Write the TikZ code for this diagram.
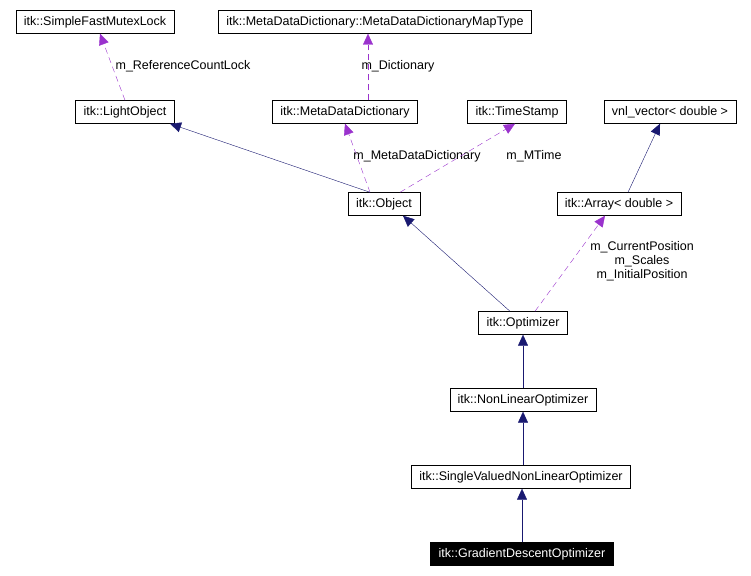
\documentclass[tikz,border=0pt]{standalone}
\usepackage{fontspec}
\setmainfont{Liberation Sans}
\definecolor{inhblue}{RGB}{25,25,112}
\definecolor{usepurple}{RGB}{154,50,205}
\usetikzlibrary{arrows.meta,positioning}

\begin{document}
\begin{tikzpicture}[x=1pt,y=-1pt,
    every node/.style={font=\fontsize{12.5}{14}\selectfont},
    cls/.style={draw,rectangle,minimum height=23pt,inner xsep=8pt,inner ysep=0pt},
    cur/.style={cls,fill=black,text=white},
    inherit/.style={draw=inhblue,-{Triangle[length=11pt,width=10pt,fill=inhblue]}},
    uses/.style={draw=usepurple,dashed,dash pattern=on 6pt off 4pt,-{Triangle[length=11pt,width=10pt,fill=usepurple]}},
    lbl/.style={align=center,inner sep=1pt}
    ]
    \useasboundingbox (0,0) rectangle (751,575);

    % the classes
    \node[cls] (lock) at (95,22) {itk::SimpleFastMutexLock};
    \node[cls] (maptype) at (375,22) {itk::MetaDataDictionary::MetaDataDictionaryMapType};
    \node[cls] (light) at (125,112) {itk::LightObject};
    \node[cls] (dict) at (345,112) {itk::MetaDataDictionary};
    \node[cls] (stamp) at (517,112) {itk::TimeStamp};
    \node[cls] (vnl) at (670,112) {vnl\_vector\textless{} double \textgreater};
    \node[cls] (object) at (384,204) {itk::Object};
    \node[cls] (array) at (619,204) {itk::Array\textless{} double \textgreater};
    \node[cls] (opt) at (523,323) {itk::Optimizer};
    \node[cls] (nonlin) at (523,400) {itk::NonLinearOptimizer};
    \node[cls] (single) at (521,477) {itk::SingleValuedNonLinearOptimizer};
    \node[cur] (grad) at (522,554) {itk::GradientDescentOptimizer};

    % the members
    \draw[uses] (light.north) -- ([xshift=5pt]lock.south);
    \node[lbl] at (183,66) {m\_ReferenceCountLock};
    \draw[uses] ([xshift=23pt]dict.north) -- ([xshift=-7pt]maptype.south);
    \node[lbl] at (398,66) {m\_Dictionary};
    \draw[uses] ([xshift=-14pt]object.north) -- (dict.south);
    \node[lbl] at (417,156) {m\_MetaDataDictionary};
    \draw[uses] ([xshift=16pt]object.north) -- ([xshift=-2pt]stamp.south);
    \node[lbl] at (534,156) {m\_MTime};
    \draw[uses] ([xshift=12pt]opt.north) -- ([xshift=-14pt]array.south);
    \node[lbl] at (642,261) {m\_CurrentPosition\\m\_Scales\\m\_InitialPosition};

    % the base classes
    \draw[inherit] ([xshift=-14pt]object.north) -- ([xshift=45pt]light.south);
    \draw[inherit] ([xshift=9pt]array.north) -- ([xshift=-10pt]vnl.south);
    \draw[inherit] ([xshift=-13pt]opt.north) -- ([xshift=19pt]object.south);
    \draw[inherit] (nonlin) -- (opt);
    \draw[inherit] ([xshift=2pt]single.north) -- (nonlin);
    \draw[inherit] (grad) -- ([xshift=1pt]single.south);
\end{tikzpicture}
\end{document}
